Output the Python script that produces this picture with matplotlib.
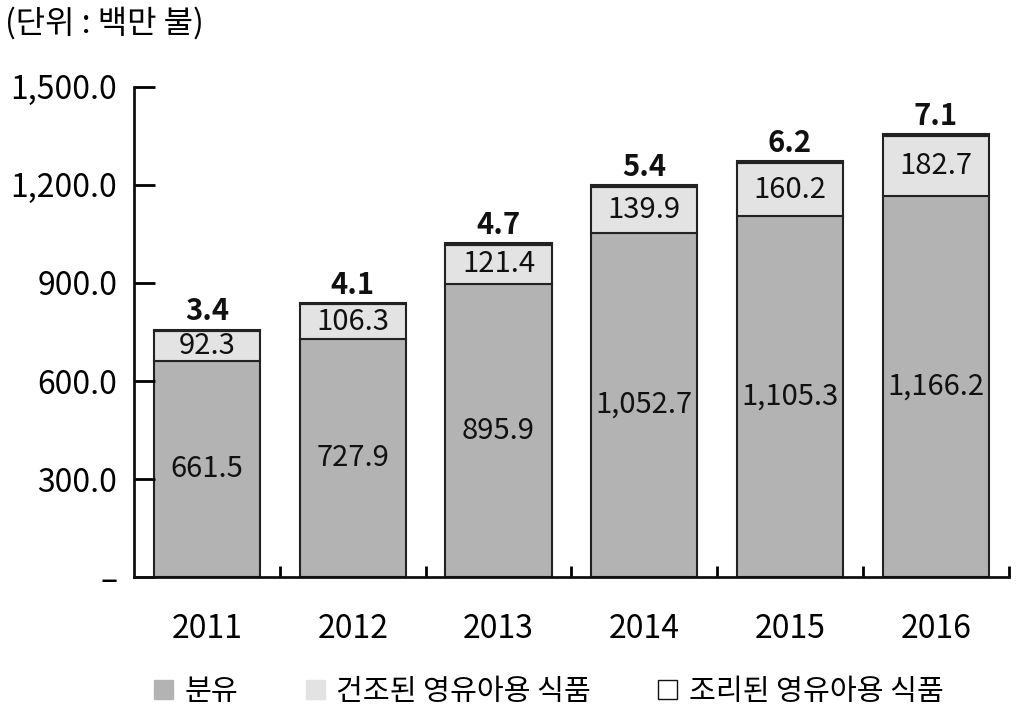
import matplotlib
matplotlib.use("Agg")
import matplotlib.pyplot as plt
from matplotlib.patches import Patch
import numpy as np

plt.rcParams['font.family'] = ['Noto Sans CJK KR', 'DejaVu Sans']

# data (단위: 백만 불)
years = ['2011', '2012', '2013', '2014', '2015', '2016']
milk = [661.5, 727.9, 895.9, 1052.7, 1105.3, 1166.2]
dried = [92.3, 106.3, 121.4, 139.9, 160.2, 182.7]
cooked = [3.4, 4.1, 4.7, 5.4, 6.2, 7.1]
series_names = ['분유', '건조된 영유아용 식품', '조리된 영유아용 식품']
yticks = [0, 300, 600, 900, 1200, 1500]
ytick_labels = ['–', '300.0', '600.0', '900.0', '1,200.0', '1,500.0']

fig = plt.figure(figsize=(10.24, 7.17), dpi=100)
ax = fig.add_axes([0.131, 0.195, 0.854, 0.684])

x = np.arange(len(years))
w = 0.73
c1, c2, c3 = '#b3b3b3', '#e3e3e3', '#ffffff'
ax.bar(x, milk, w, color=c1, edgecolor='#222222', linewidth=1.5)
ax.bar(x, dried, w, bottom=milk, color=c2, edgecolor='#222222', linewidth=1.5)
base2 = np.array(milk) + np.array(dried)
ax.bar(x, cooked, w, bottom=base2, color=c3, edgecolor='#222222', linewidth=1.5)

for i in range(len(years)):
    ax.text(x[i], milk[i] / 2, f'{milk[i]:,.1f}', ha='center', va='center',
            fontsize=21, color='#111111')
    ax.text(x[i], milk[i] + dried[i] / 2, f'{dried[i]:,.1f}', ha='center',
            va='center', fontsize=21, color='#111111')
    ax.text(x[i], base2[i] + cooked[i] + 10, f'{cooked[i]:.1f}', ha='center',
            va='bottom', fontsize=21, fontweight='bold', color='#111111')

ax.set_xlim(-0.5, len(years) - 0.5)
ax.set_ylim(0, 1500)
ax.set_yticks(yticks)
ax.set_yticklabels(ytick_labels, fontsize=23)
ax.tick_params(axis='y', direction='in', length=15, width=2, pad=12)
ax.set_xticks(x)
ax.set_xticklabels(years, fontsize=23)
ax.tick_params(axis='x', which='major', length=0, pad=26)
ax.set_xticks(np.arange(0.5, len(years) - 0.4, 1.0), minor=True)
ax.tick_params(axis='x', which='minor', direction='in', length=8, width=2)

for s in ['top', 'right']:
    ax.spines[s].set_visible(False)
for s in ['left', 'bottom']:
    ax.spines[s].set_linewidth(2)
    ax.spines[s].set_color('#111111')

fig.text(0.005, 0.968, '(단위 : 백만 불)', fontsize=23, ha='left', va='center')

handles = [Patch(facecolor=c1, edgecolor=c1),
           Patch(facecolor=c2, edgecolor=c2),
           Patch(facecolor=c3, edgecolor='#111111', linewidth=1)]
fig.legend(handles, series_names, loc='center', bbox_to_anchor=(0.536, 0.035),
           ncol=3, frameon=False, prop={'size': 21},
           handlelength=0.65, handleheight=0.65, handletextpad=0.4,
           columnspacing=2.3)

fig.savefig('out.png', dpi=100)
